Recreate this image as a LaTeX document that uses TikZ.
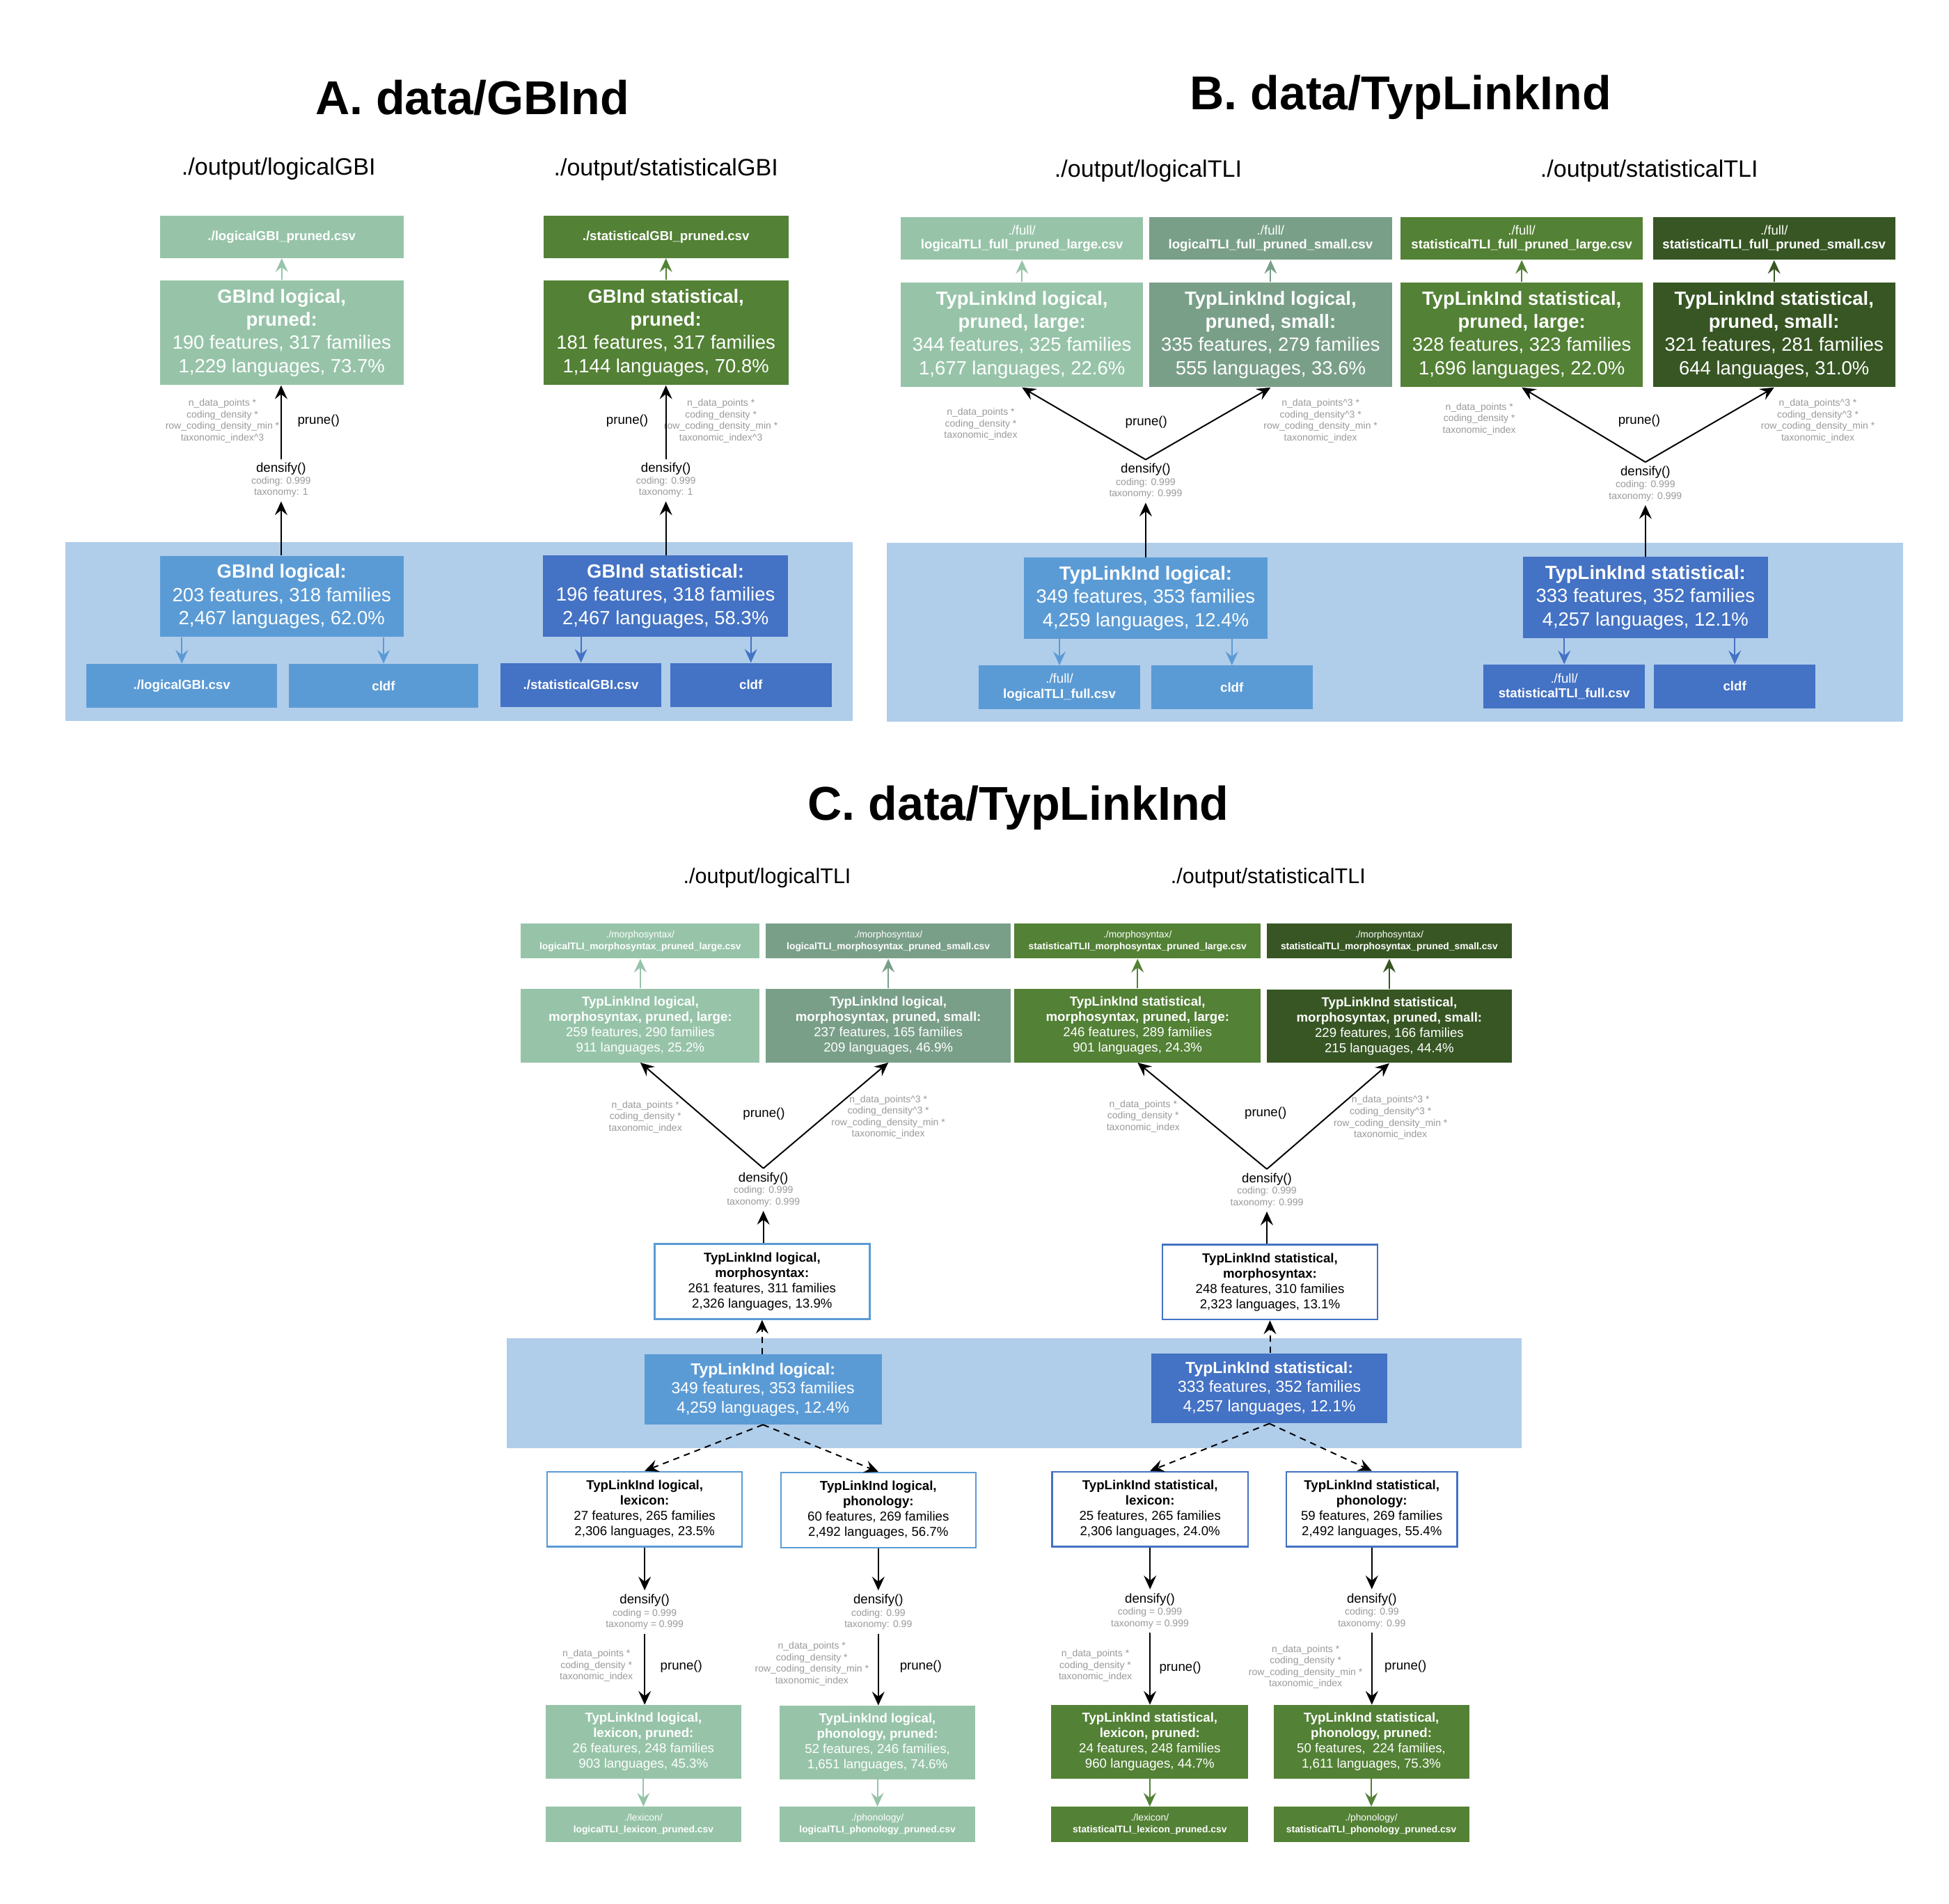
\documentclass[tikz,border=0pt]{standalone}
\usepackage{fontspec}
\setmainfont{Liberation Sans}
\usetikzlibrary{arrows.meta}
\definecolor{lgreen}{HTML}{97C4A9}
\definecolor{lgreendk}{HTML}{7A9F89}
\definecolor{sgreen}{HTML}{538135}
\definecolor{sgreendk}{HTML}{375623}
\definecolor{lblue}{HTML}{5B9BD5}
\definecolor{sblue}{HTML}{4472C4}
\definecolor{bgblue}{HTML}{B0CDEA}
\definecolor{greytxt}{HTML}{999999}
\tikzset{
  box/.style={rectangle,inner sep=0pt,align=center,text=white,fill=#1},
  abfile/.style={box=#1,minimum height=34pt,font=\fontsize{10.4}{11.5}\selectfont},
  abprn/.style={box=#1,minimum height=84pt,font=\fontsize{15.3}{18.6}\selectfont},
  abbase/.style={box=#1,minimum height=65pt,font=\fontsize{15.3}{18.6}\selectfont},
  about/.style={box=#1,minimum height=35pt,font=\fontsize{10.4}{12}\selectfont},
  cfile/.style={box=#1,minimum height=28pt,font=\fontsize{7.7}{9.3}\selectfont},
  cprn/.style={box=#1,minimum height=59pt,font=\fontsize{10.4}{12.3}\selectfont},
  cbase/.style={box=#1,minimum height=56pt,font=\fontsize{12.8}{15.3}\selectfont},
  cmid/.style={rectangle,inner sep=0pt,align=center,draw=#1,line width=1.4pt,fill=white,minimum height=60pt,font=\fontsize{10.4}{12.3}\selectfont},
  fn/.style={inner sep=3pt,font=\fontsize{10.4}{12}\selectfont},
  params/.style={inner sep=3pt,align=center,text=greytxt,font=\fontsize{7.8}{9.2}\selectfont},
  ttl/.style={font=\fontsize{38}{44}\selectfont\bfseries},
  subttl/.style={font=\fontsize{19}{22}\selectfont},
  arr/.style={-{Stealth[length=11pt,width=10pt,inset=4pt]},line width=1.1pt,draw=#1},
  arr/.default=black,
}
\begin{document}
\begin{tikzpicture}[x=1pt,y=-1pt]
\useasboundingbox (0,0) rectangle (1560,1524);
\fill[bgblue] (52.5,434) rectangle (682.5,577);
\fill[bgblue] (710,434.5) rectangle (1523,577.7);
\fill[bgblue] (405.4,1071.5) rectangle (1218,1159.4);

\node[ttl] (titleA) at (378,78) {A. data/GBInd};
\node[ttl] (titleB) at (1121,78) {B. data/TypLinkInd};
\node[ttl] (titleC) at (815,647) {C. data/TypLinkInd};
\node[subttl] (outAL) at (223,135) {./output/logicalGBI};
\node[subttl] (outAS) at (533,136) {./output/statisticalGBI};
\node[subttl] (outBL) at (919,137) {./output/logicalTLI};
\node[subttl] (outBS) at (1320,137) {./output/statisticalTLI};
\node[subttl,font=\fontsize{17}{20}\selectfont] (outCL) at (614,703) {./output/logicalTLI};
\node[subttl,font=\fontsize{17}{20}\selectfont] (outCS) at (1015,703) {./output/statisticalTLI};

\node[abfile=lgreen,minimum width=195pt] (fileAL) at (225.5,189.6) {\textbf{./logicalGBI\_pruned.csv}};
\node[abprn=lgreen,minimum width=195pt] (prnAL) at (225.5,266.3) {\textbf{GBInd logical,}\\\textbf{pruned:}\\190 features, 317 families\\1,229 languages, 73.7\%};
\node[fn] (densAL) at (225,375.5) {densify()};
\node[params] (parAL) at (225,390) {coding: 0.999\\taxonomy: 1};
\node[fn] (pAL) at (255,337) {prune()};
\node[params] (gAL) at (178,337) {n\_data\_points *\\coding\_density *\\row\_coding\_density\_min *\\taxonomic\_index\textasciicircum3};
\node[abbase=lblue,minimum width=195pt] (baseAL) at (225.5,477.5) {\textbf{GBInd logical:}\\203 features, 318 families\\2,467 languages, 62.0\%};
\node[about=lblue,minimum width=153pt] (csvAL) at (145.5,549) {\textbf{./logicalGBI.csv}};
\node[about=lblue,minimum width=152pt] (cldfAL) at (307,549) {\textbf{cldf}};

\node[abfile=sgreen,minimum width=196pt] (fileAS) at (533,189.6) {\textbf{./statisticalGBI\_pruned.csv}};
\node[abprn=sgreen,minimum width=196pt] (prnAS) at (533,266.3) {\textbf{GBInd statistical,}\\\textbf{pruned:}\\181 features, 317 families\\1,144 languages, 70.8\%};
\node[fn] (densAS) at (533,375.5) {densify()};
\node[params] (parAS) at (533,390) {coding: 0.999\\taxonomy: 1};
\node[fn] (pAS) at (502,337) {prune()};
\node[params] (gAS) at (577,337) {n\_data\_points *\\coding\_density *\\row\_coding\_density\_min *\\taxonomic\_index\textasciicircum3};
\node[abbase=sblue,minimum width=196pt] (baseAS) at (532.7,477.2) {\textbf{GBInd statistical:}\\196 features, 318 families\\2,467 languages, 58.3\%};
\node[about=sblue,minimum width=129pt] (csvAS) at (465,548.3) {\textbf{./statisticalGBI.csv}};
\node[about=sblue,minimum width=129pt] (cldfAS) at (601,548.3) {\textbf{cldf}};

\draw[arr=lgreen] (prnAL) -- (fileAL);
\draw[arr] (densAL.north) -- (densAL.north |- prnAL.south);
\draw[arr] (parAL.south |- baseAL.north) -- (parAL.south);
\draw[arr=lblue] (csvAL.north |- baseAL.south) -- (csvAL.north);
\draw[arr=lblue] (cldfAL.north |- baseAL.south) -- (cldfAL.north);
\draw[arr=sgreen] (prnAS) -- (fileAS);
\draw[arr] (densAS.north) -- (densAS.north |- prnAS.south);
\draw[arr] (parAS.south |- baseAS.north) -- (parAS.south);
\draw[arr=sblue] (csvAS.north |- baseAS.south) -- (csvAS.north);
\draw[arr=sblue] (cldfAS.north |- baseAS.south) -- (cldfAS.north);

\node[abfile=lgreen,minimum width=194pt] (fileBLL) at (818,191) {./full/\\\textbf{logicalTLI\_full\_pruned\_large.csv}};
\node[abfile=lgreendk,minimum width=194pt] (fileBLS) at (1017,191) {./full/\\\textbf{logicalTLI\_full\_pruned\_small.csv}};
\node[abfile=sgreen,minimum width=194pt] (fileBSL) at (1218,191) {./full/\\\textbf{statisticalTLI\_full\_pruned\_large.csv}};
\node[abfile=sgreendk,minimum width=194pt] (fileBSS) at (1420,191) {./full/\\\textbf{statisticalTLI\_full\_pruned\_small.csv}};
\node[abprn=lgreen,minimum width=194pt] (prnBLL) at (818,268) {\textbf{TypLinkInd logical,}\\\textbf{pruned, large:}\\344 features, 325 families\\1,677 languages, 22.6\%};
\node[abprn=lgreendk,minimum width=194pt] (prnBLS) at (1017,268) {\textbf{TypLinkInd logical,}\\\textbf{pruned, small:}\\335 features, 279 families\\555 languages, 33.6\%};
\node[abprn=sgreen,minimum width=194pt] (prnBSL) at (1218,268) {\textbf{TypLinkInd statistical,}\\\textbf{pruned, large:}\\328 features, 323 families\\1,696 languages, 22.0\%};
\node[abprn=sgreendk,minimum width=194pt] (prnBSS) at (1420,268) {\textbf{TypLinkInd statistical,}\\\textbf{pruned, small:}\\321 features, 281 families\\644 languages, 31.0\%};

\node[fn] (densBL) at (917,376) {densify()};
\node[params] (parBL) at (917,391) {coding: 0.999\\taxonomy: 0.999};
\node[fn] (pBL) at (917.5,338) {prune()};
\node[params] (gBLL) at (785,339.5) {n\_data\_points *\\coding\_density *\\taxonomic\_index};
\node[params] (gBLS) at (1057,337) {n\_data\_points\textasciicircum3 *\\coding\_density\textasciicircum3 *\\row\_coding\_density\_min *\\taxonomic\_index};
\node[abbase=lblue,minimum width=195pt] (baseBL) at (917,479) {\textbf{TypLinkInd logical:}\\349 features, 353 families\\4,259 languages, 12.4\%};
\node[about=lblue,minimum width=129pt] (csvBL) at (848,550.3) {./full/\\\textbf{logicalTLI\_full.csv}};
\node[about=lblue,minimum width=129pt] (cldfBL) at (986,550.3) {\textbf{cldf}};

\node[fn] (densBS) at (1317,378) {densify()};
\node[params] (parBS) at (1317,393) {coding: 0.999\\taxonomy: 0.999};
\node[fn] (pBS) at (1312,337) {prune()};
\node[params] (gBSL) at (1184,335.5) {n\_data\_points *\\coding\_density *\\taxonomic\_index};
\node[params] (gBSS) at (1455,337) {n\_data\_points\textasciicircum3 *\\coding\_density\textasciicircum3 *\\row\_coding\_density\_min *\\taxonomic\_index};
\node[abbase=sblue,minimum width=196pt] (baseBS) at (1317,478.4) {\textbf{TypLinkInd statistical:}\\333 features, 352 families\\4,257 languages, 12.1\%};
\node[about=sblue,minimum width=129pt] (csvBS) at (1252,549.5) {./full/\\\textbf{statisticalTLI\_full.csv}};
\node[about=sblue,minimum width=129pt] (cldfBS) at (1388.5,549.5) {\textbf{cldf}};

\draw[arr=lgreen] (prnBLL) -- (fileBLL);
\draw[arr=lgreendk] (prnBLS) -- (fileBLS);
\draw[arr=sgreen] (prnBSL) -- (fileBSL);
\draw[arr=sgreendk] (prnBSS) -- (fileBSS);
\draw[arr] (densBL.north) -- (prnBLL.south);
\draw[arr] (densBL.north) -- (prnBLS.south);
\draw[arr] (densBS.north) -- (prnBSL.south);
\draw[arr] (densBS.north) -- (prnBSS.south);
\draw[arr] (parBL.south |- baseBL.north) -- (parBL.south);
\draw[arr] (parBS.south |- baseBS.north) -- (parBS.south);
\draw[arr=lblue] (csvBL.north |- baseBL.south) -- (csvBL.north);
\draw[arr=lblue] (cldfBL.north |- baseBL.south) -- (cldfBL.north);
\draw[arr=sblue] (csvBS.north |- baseBS.south) -- (csvBS.north);
\draw[arr=sblue] (cldfBS.north |- baseBS.south) -- (cldfBS.north);

\node[cfile=lgreen,minimum width=191pt] (fileCLL) at (512.5,753.4) {./morphosyntax/\\\textbf{logicalTLI\_morphosyntax\_pruned\_large.csv}};
\node[cfile=lgreendk,minimum width=196pt] (fileCLS) at (711,753.4) {./morphosyntax/\\\textbf{logicalTLI\_morphosyntax\_pruned\_small.csv}};
\node[cfile=sgreen,minimum width=197pt] (fileCSL) at (910.5,753.4) {./morphosyntax/\\\textbf{statisticalTLII\_morphosyntax\_pruned\_large.csv}};
\node[cfile=sgreendk,minimum width=196pt] (fileCSS) at (1112,753.4) {./morphosyntax/\\\textbf{statisticalTLI\_morphosyntax\_pruned\_small.csv}};
\node[cprn=lgreen,minimum width=191pt] (prnCLL) at (512.5,821) {\textbf{TypLinkInd logical,}\\\textbf{morphosyntax, pruned, large:}\\259 features, 290 families\\911 languages, 25.2\%};
\node[cprn=lgreendk,minimum width=196pt] (prnCLS) at (711,821) {\textbf{TypLinkInd logical,}\\\textbf{morphosyntax, pruned, small:}\\237 features, 165 families\\209 languages, 46.9\%};
\node[cprn=sgreen,minimum width=197pt] (prnCSL) at (910.5,821) {\textbf{TypLinkInd statistical,}\\\textbf{morphosyntax, pruned, large:}\\246 features, 289 families\\901 languages, 24.3\%};
\node[cprn=sgreendk,minimum width=196pt] (prnCSS) at (1112,821.5) {\textbf{TypLinkInd statistical,}\\\textbf{morphosyntax, pruned, small:}\\229 features, 166 families\\215 languages, 44.4\%};

\node[fn] (densCL) at (611,943.4) {densify()};
\node[params] (parCL) at (611,958) {coding: 0.999\\taxonomy: 0.999};
\node[fn] (pCL) at (611.5,892) {prune()};
\node[params] (gCLL) at (516.6,894.2) {n\_data\_points *\\coding\_density *\\taxonomic\_index};
\node[params] (gCLS) at (711,894.4) {n\_data\_points\textasciicircum3 *\\coding\_density\textasciicircum3 *\\row\_coding\_density\_min *\\taxonomic\_index};
\node[cmid=lblue,minimum width=172pt] (midCL) at (610,1026) {\textbf{TypLinkInd logical,}\\\textbf{morphosyntax:}\\261 features, 311 families\\2,326 languages, 13.9\%};
\node[cbase=lblue,minimum width=190pt] (baseCL) at (610.7,1112.4) {\textbf{TypLinkInd logical:}\\349 features, 353 families\\4,259 languages, 12.4\%};

\node[fn] (densCS) at (1014,944) {densify()};
\node[params] (parCS) at (1014,958.5) {coding: 0.999\\taxonomy: 0.999};
\node[fn] (pCS) at (1013,891) {prune()};
\node[params] (gCSL) at (915,893.7) {n\_data\_points *\\coding\_density *\\taxonomic\_index};
\node[params] (gCSS) at (1113,894.8) {n\_data\_points\textasciicircum3 *\\coding\_density\textasciicircum3 *\\row\_coding\_density\_min *\\taxonomic\_index};
\node[cmid=sblue,minimum width=172pt] (midCS) at (1016.5,1026.4) {\textbf{TypLinkInd statistical,}\\\textbf{morphosyntax:}\\248 features, 310 families\\2,323 languages, 13.1\%};
\node[cbase=sblue,minimum width=189pt] (baseCS) at (1016,1111.5) {\textbf{TypLinkInd statistical:}\\333 features, 352 families\\4,257 languages, 12.1\%};

\draw[arr=lgreen] (prnCLL) -- (fileCLL);
\draw[arr=lgreendk] (prnCLS) -- (fileCLS);
\draw[arr=sgreen] (prnCSL) -- (fileCSL);
\draw[arr=sgreendk] (prnCSS) -- (fileCSS);
\draw[arr] (densCL.north) -- (prnCLL.south);
\draw[arr] (densCL.north) -- (prnCLS.south);
\draw[arr] (densCS.north) -- (prnCSL.south);
\draw[arr] (densCS.north) -- (prnCSS.south);
\draw[arr] (parCL.south |- midCL.north) -- (parCL.south);
\draw[arr] (parCS.south |- midCS.north) -- (parCS.south);
\draw[arr,dash pattern=on 5pt off 4pt] (midCL.south |- baseCL.north) -- (midCL.south);
\draw[arr,dash pattern=on 5pt off 4pt] (midCS.south |- baseCS.north) -- (midCS.south);

\node[cmid=lblue,minimum width=156pt] (lexL) at (516,1208.3) {\textbf{TypLinkInd logical,}\\\textbf{lexicon:}\\27 features, 265 families\\2,306 languages, 23.5\%};
\node[cmid=lblue,minimum width=156pt] (phonL) at (703,1209) {\textbf{TypLinkInd logical,}\\\textbf{phonology:}\\60 features, 269 families\\2,492 languages, 56.7\%};
\node[fn] (densLexL) at (516,1281.3) {densify()};
\node[params] (parLexL) at (516,1296.5) {coding = 0.999\\taxonomy = 0.999};
\node[fn] (pLexL) at (545.3,1334) {prune()};
\node[params] (gLexL) at (477.3,1333.6) {n\_data\_points *\\coding\_density *\\taxonomic\_index};
\node[fn] (densPhonL) at (703,1281.3) {densify()};
\node[params] (parPhonL) at (703,1296.5) {coding: 0.99\\taxonomy: 0.99};
\node[fn] (pPhonL) at (737,1334) {prune()};
\node[params] (gPhonL) at (649.8,1332) {n\_data\_points *\\coding\_density *\\row\_coding\_density\_min *\\taxonomic\_index};
\node[cprn=lgreen,minimum width=156.5pt] (prnLexL) at (515,1394.5) {\textbf{TypLinkInd logical,}\\\textbf{lexicon, pruned:}\\26 features, 248 families\\903 languages, 45.3\%};
\node[cprn=lgreen,minimum width=157pt] (prnPhonL) at (702.3,1395) {\textbf{TypLinkInd logical,}\\\textbf{phonology, pruned:}\\52 features, 246 families,\\1,651 languages, 74.6\%};
\node[cfile=lgreen,minimum width=156.5pt] (outLexL) at (515,1460.5) {./lexicon/\\\textbf{logicalTLI\_lexicon\_pruned.csv}};
\node[cfile=lgreen,minimum width=157pt] (outPhonL) at (702.3,1460.5) {./phonology/\\\textbf{logicalTLI\_phonology\_pruned.csv}};

\node[cmid=sblue,minimum width=157pt] (lexS) at (920.5,1208.3) {\textbf{TypLinkInd statistical,}\\\textbf{lexicon:}\\25 features, 265 families\\2,306 languages, 24.0\%};
\node[cmid=sblue,minimum width=137pt] (phonS) at (1098,1208.3) {\textbf{TypLinkInd statistical,}\\\textbf{phonology:}\\59 features, 269 families\\2,492 languages, 55.4\%};
\node[fn] (densLexS) at (920.4,1280.4) {densify()};
\node[params] (parLexS) at (920.4,1295.6) {coding = 0.999\\taxonomy = 0.999};
\node[fn] (pLexS) at (944.7,1335) {prune()};
\node[params] (gLexS) at (876.7,1333.6) {n\_data\_points *\\coding\_density *\\taxonomic\_index};
\node[fn] (densPhonS) at (1098,1280.4) {densify()};
\node[params] (parPhonS) at (1098,1295.6) {coding: 0.99\\taxonomy: 0.99};
\node[fn] (pPhonS) at (1125,1334) {prune()};
\node[params] (gPhonS) at (1045,1334.6) {n\_data\_points *\\coding\_density *\\row\_coding\_density\_min *\\taxonomic\_index};
\node[cprn=sgreen,minimum width=157.5pt] (prnLexS) at (920.3,1394.5) {\textbf{TypLinkInd statistical,}\\\textbf{lexicon, pruned:}\\24 features, 248 families\\960 languages, 44.7\%};
\node[cprn=sgreen,minimum width=156.6pt] (prnPhonS) at (1097.6,1394.5) {\textbf{TypLinkInd statistical,}\\\textbf{phonology, pruned:}\\50 features,\ \ 224 families,\\1,611 languages, 75.3\%};
\node[cfile=sgreen,minimum width=157.5pt] (outLexS) at (920.3,1460.5) {./lexicon/\\\textbf{statisticalTLI\_lexicon\_pruned.csv}};
\node[cfile=sgreen,minimum width=156.6pt] (outPhonS) at (1097.6,1460.5) {./phonology/\\\textbf{statisticalTLI\_phonology\_pruned.csv}};

\draw[arr,dash pattern=on 5pt off 4pt] (baseCL.south) -- (lexL.north);
\draw[arr,dash pattern=on 5pt off 4pt] (baseCL.south) -- (phonL.north);
\draw[arr,dash pattern=on 5pt off 4pt] (baseCS.south) -- (lexS.north);
\draw[arr,dash pattern=on 5pt off 4pt] (baseCS.south) -- (phonS.north);
\draw[arr] (lexL.south) -- (lexL.south |- densLexL.north);
\draw[arr] (phonL.south) -- (phonL.south |- densPhonL.north);
\draw[arr] (lexS.south) -- (lexS.south |- densLexS.north);
\draw[arr] (phonS.south) -- (phonS.south |- densPhonS.north);
\draw[arr] (parLexL.south) -- (parLexL.south |- prnLexL.north);
\draw[arr] (parPhonL.south) -- (parPhonL.south |- prnPhonL.north);
\draw[arr] (parLexS.south) -- (parLexS.south |- prnLexS.north);
\draw[arr] (parPhonS.south) -- (parPhonS.south |- prnPhonS.north);
\draw[arr=lgreen] (prnLexL) -- (outLexL);
\draw[arr=lgreen] (prnPhonL) -- (outPhonL);
\draw[arr=sgreen] (prnLexS) -- (outLexS);
\draw[arr=sgreen] (prnPhonS) -- (outPhonS);
\end{tikzpicture}
\end{document}
